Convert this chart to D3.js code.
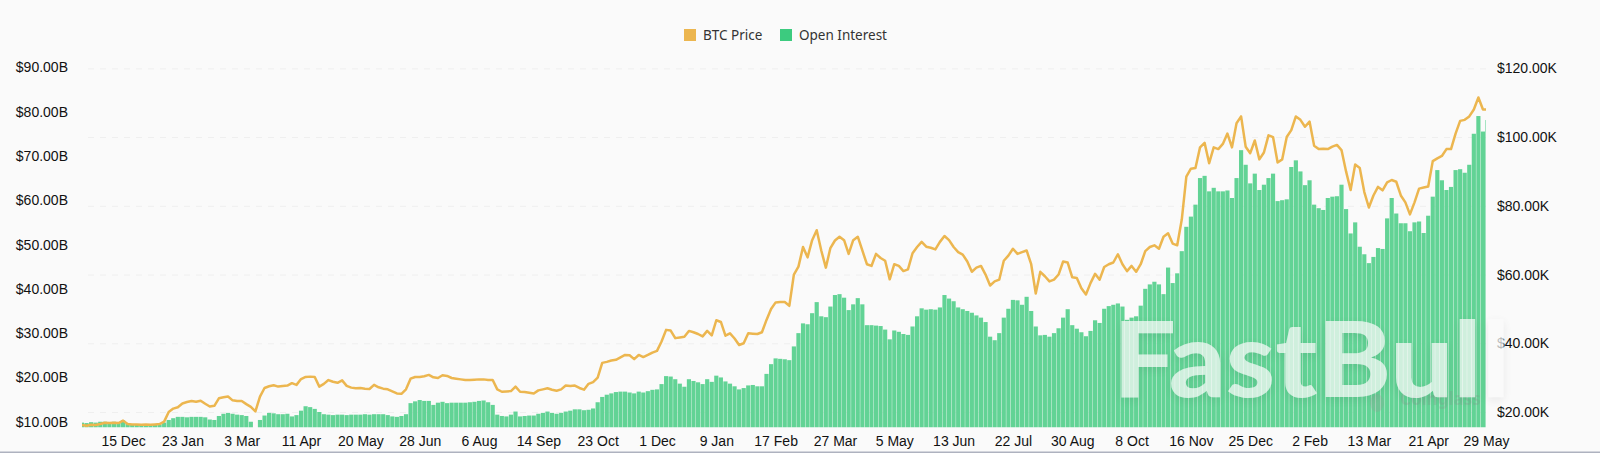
<!DOCTYPE html>
<html>
<head>
<meta charset="utf-8">
<title>BTC Price and Open Interest</title>
<script src="https://cdn.jsdelivr.net/npm/d3@7"></script>
<style>
	html, body { margin: 0; padding: 0; background: #fafafa; }
	svg { display: block; font-family: "Noto Sans", sans-serif; }
	.domain { display: none; }
	.axis text { fill: #111; font-size: 14px; }
	.grid line { stroke: #efefef; stroke-dasharray: 6 6; }
</style>
</head>
<body>
<div id="chart"></div>
<script>
'use strict';
// one reading every 3 days, first one is firstDate
var firstDate = new Date(2022, 10, 18);
var stepDays = 3;

// BTC price, thousands of USD
var priceK = [
	16.2,16.0,16.3,16.2,16.5,16.9,16.8,16.9,16.8,17.5,
	16.5,16.4,16.4,16.3,16.4,16.3,16.4,16.5,17.2,20.0,
	21,21.4,22.5,22.9,23.2,23,23.3,22.4,21.6,21.8,
	24,24.3,24.5,23.4,23.2,23.2,22.3,21.5,20.2,24.5,
	27,27.5,27.8,27.4,27.6,27.7,28.4,27.9,29.6,30.2,
	30.3,30.2,27.4,28.2,29.3,28.8,28.5,29.2,27.6,27.1,
	26.9,27,26.8,26.7,27.9,27.2,26.8,26.6,26,25.4,
	25.3,26.6,29.7,30.2,30.2,30.4,30.8,30.1,29.9,30.7,
	30.5,29.9,29.7,29.5,29.3,29.3,29.4,29.5,29.5,29.3,
	29.3,26.6,25.9,26,26.1,27.4,25.9,25.8,25.6,25.4,
	26.3,26.6,26.9,26.5,26.2,26.6,27.7,27.6,27.7,27,
	26.5,28.2,28.7,30,34.3,34.6,35,35.2,35.9,36.6,
	36.5,35.4,36.6,36,36.6,37.3,37.8,40.5,43.9,43.7,
	41.5,41.7,41.9,43.6,43.2,42.7,42,43.6,42.3,46.7,
	46.2,42.2,42.9,41.4,39.5,40,42.9,42.8,42.7,43.2,
	46.8,50,51.9,52,52,50.9,60,62.3,68,65,
	70,72.9,67,62,67.7,69.9,71,70,66,70,
	71,67,63,62.5,66,64.8,64,58.6,63,62.5,
	61,61.5,66.2,68,69.5,68.1,67.8,67.3,69.5,71.2,
	70,68,66.5,65.8,63.8,60.8,62,62.5,60,56.8,
	58,58.5,64,65.5,67.5,66,66.5,67,63,54.5,
	60.8,59.5,58,58.5,60,63.8,63.5,59.2,59,56,
	54.2,57.5,60.2,58.5,62.2,63,63.5,65.9,63,61,
	62.5,60.8,63,66.8,68,68.5,67.5,71,72,69,
	68.5,76,88.5,90.8,91,97,98.3,92.4,97,96.5,
	98,101,97,104,106,97.2,95.3,99,93.5,95.5,
	100.5,100,92.6,93.5,100,102,106,105,103,104.5,
	97.5,96.5,96.6,96.5,97.2,97.7,96.2,90,84.6,92,
	91,84,79.5,83,85.5,84.5,86.8,87.5,87,83,
	81,77.5,81,85,85.3,85.6,93,93.8,94.5,96.5,
	96.5,101,104.7,105,106,108,111.5,108,108
];

// open interest, billions of USD
var openInterestB = [
	9.8,9.7,9.9,9.8,10,10,9.9,10,9.9,10.3,
	9.5,9.4,9.4,9.4,9.3,9.3,9.3,9.4,9.8,10.4,
	10.8,11.1,11.1,11,11.1,11.1,11.1,11,10.5,10.4,
	11.3,11.8,12,11.8,11.6,11.5,11.3,10,8.7,10.4,
	11.4,12,11.9,11.7,11.7,11.8,11.2,11.5,12.5,13.5,
	13.3,12.9,12.2,11.7,11.6,11.5,11.6,11.6,11.5,11.6,
	11.6,11.6,11.7,11.6,11.7,11.7,11.7,11.5,11.2,11.1,
	11.3,11.7,14.2,14.6,14.9,14.7,14.7,13.8,14.3,14.5,
	14.2,14.3,14.3,14.3,14.3,14.4,14.5,14.7,14.8,14.4,
	13.8,11.6,11.3,11.2,11.6,12.3,11.2,11.3,11.4,11.4,
	11.8,12,12.3,12,11.8,12,12.3,12.5,12.8,12.8,
	12.6,12.7,13,14.4,15.6,16.1,16.4,16.7,16.8,16.8,
	16.6,16.4,16.8,16.6,16.9,17.2,17.3,18.5,20.3,20.2,
	19.6,18.6,17.9,19.6,19.2,18.9,18.5,19.6,19,20.4,
	20,19.1,18.6,18,17.3,17.6,18.2,18.3,18,18,
	20.8,23,24.3,24.2,24.1,23.9,27,30,32.2,32,
	34.5,37,33.8,33.6,36,38.6,38.8,38,35.2,36.5,
	37.9,36.5,31.8,31.8,31.7,31.6,30.8,28.6,30.6,30.3,
	29.8,29.6,31.5,33.8,35.6,35.3,35.4,35.3,35.8,38.6,
	37.8,37.2,35.8,35.4,35,34.6,34,33.5,32.5,29.2,
	28.4,30,33.5,35.5,37.5,37.4,36.4,38.2,35,31.5,
	29.5,29.6,29.2,30,31.1,33.5,35.4,31.8,31,30.2,
	29.3,30.5,32.9,32.3,35.5,36.1,36.4,36.7,36,33,
	33.5,33.8,36.2,40,41,41.6,41,38.8,44.8,41.3,
	43.5,48.5,54,56.3,59,65,65.5,62,62.8,62,
	62,62.2,60.5,65,71.3,68,63.8,66,62.3,63.5,
	65,66,59.8,60,60.2,67.5,69,66.5,63.4,64.5,
	59,58.2,57.8,60.5,60.8,60.9,63.5,58,52.5,55,
	49.5,47.8,45.8,47.2,49.2,49,55.9,60.5,57,54.8,
	54.8,53,55,55.2,52.6,56.5,60.8,66.8,64.5,62.3,
	63,66.8,67,66.2,68,75,79,75.5,78.1
];

var dateTicks = ["2022-12-15","2023-01-23","2023-03-03","2023-04-11","2023-05-20","2023-06-28",
	"2023-08-06","2023-09-14","2023-10-23","2023-12-01","2024-01-09","2024-02-17","2024-03-27",
	"2024-05-05","2024-06-13","2024-07-22","2024-08-30","2024-10-08","2024-11-16","2024-12-25",
	"2025-02-02","2025-03-13","2025-04-21","2025-05-29"];
var oiTicks = [10, 20, 30, 40, 50, 60, 70, 80, 90];
var priceTicks = [20, 40, 60, 80, 100, 120];
var legendNames = ["BTC Price", "Open Interest"];
var legendColors = ["#ecb64f", "#3ccb7f"];

var width = 1600, height = 453;
var left = 82, right = 1486, bottom = 427.5;

var dates = priceK.map(function(_v, i){ return d3.timeDay.offset(firstDate, i * stepDays); });
var parseDay = d3.timeParse("%Y-%m-%d");

var x = d3.scaleTime()
	.domain([firstDate, parseDay("2025-05-29")])
	.range([left, right]);
var yOi = d3.scaleLinear().domain([8.7, 90]).range([bottom, 67.3]);
var yPrice = d3.scaleLinear().domain([15.5, 120]).range([bottom, 68.3]);

var svg = d3.select("#chart").append("svg")
	.attr("width", width)
	.attr("height", height);

svg.append("defs").append("clipPath").attr("id", "plot")
	.append("rect")
	.attr("x", left).attr("y", 0)
	.attr("width", right - left).attr("height", bottom);

// right axis also carries the dashed grid
svg.append("g")
	.attr("class", "axis grid")
	.attr("transform", "translate(" + right + ",0)")
	.call(d3.axisRight(yPrice)
		.tickValues(priceTicks)
		.tickSize(-(right - left))
		.tickPadding(11)
		.tickFormat(function(d){ return "$" + d + ".00K"; }));

svg.append("g")
	.attr("class", "axis")
	.attr("transform", "translate(" + left + ",0)")
	.call(d3.axisLeft(yOi)
		.tickValues(oiTicks)
		.tickSize(0)
		.tickPadding(14)
		.tickFormat(function(d){ return "$" + d + ".00B"; }));

svg.append("g")
	.attr("class", "axis")
	.attr("transform", "translate(0," + bottom + ")")
	.call(d3.axisBottom(x)
		.tickValues(dateTicks.map(parseDay))
		.tickSize(0)
		.tickPadding(9)
		.tickFormat(d3.timeFormat("%-d %b")));

var plot = svg.append("g").attr("clip-path", "url(#plot)");
var barWidth = x(dates[1]) - x(dates[0]) - 0.4;

plot.selectAll("rect.oi")
	.data(openInterestB)
	.enter().append("rect")
	.attr("class", "oi")
	.attr("x", function(_d, i){ return x(dates[i]) - barWidth / 2; })
	.attr("y", function(d){ return yOi(d); })
	.attr("width", barWidth)
	.attr("height", function(d){ return bottom - yOi(d); })
	.attr("fill", "#62d395");

var priceLine = d3.line()
	.x(function(_d, i){ return x(dates[i]); })
	.y(function(d){ return yPrice(d); });

plot.append("path")
	.datum(priceK)
	.attr("d", priceLine)
	.attr("fill", "none")
	.attr("stroke", "#ecb64f")
	.attr("stroke-width", 2.5)
	.attr("stroke-linejoin", "round");

// legend
var legendX = [684, 780];
var legend = svg.selectAll("g.legend")
	.data(legendNames)
	.enter().append("g")
	.attr("class", "legend")
	.attr("transform", function(_d, i){ return "translate(" + legendX[i] + ",29)"; });
legend.append("rect")
	.attr("width", 12).attr("height", 12)
	.attr("fill", function(_d, i){ return legendColors[i]; });
legend.append("text")
	.attr("x", 19).attr("y", 11)
	.attr("fill", "#333")
	.style("font-size", "13.5px")
	.text(function(d){ return d; });

// watermarks sit on top of everything
svg.append("ellipse")
	.attr("cx", 1377).attr("cy", 403)
	.attr("rx", 7).attr("ry", 9)
	.attr("fill", "#999")
	.attr("opacity", 0.25);

svg.append("text")
	.attr("x", 1400).attr("y", 405)
	.attr("fill", "#888")
	.attr("opacity", 0.22)
	.style("font-size", "17px")
	.style("font-weight", 700)
	.text("Coinglass");

svg.append("text")
	.attr("x", 1113).attr("y", 397)
	.attr("textLength", 397)
	.attr("lengthAdjust", "spacingAndGlyphs")
	.attr("fill", "#fafafa")
	.attr("opacity", 0.72)
	.style("font-family", "Lato, sans-serif")
	.style("font-size", "104px")
	.style("font-weight", 900)
	.style("filter", "drop-shadow(0 3px 5px rgba(0,0,0,0.10))")
	.text("FastBull");

// strip of the screenshot edge at the bottom
svg.append("rect")
	.attr("x", 0).attr("y", height - 1.5)
	.attr("width", width).attr("height", 1.5)
	.attr("fill", "#aeb2bf");
</script>
</body>
</html>
